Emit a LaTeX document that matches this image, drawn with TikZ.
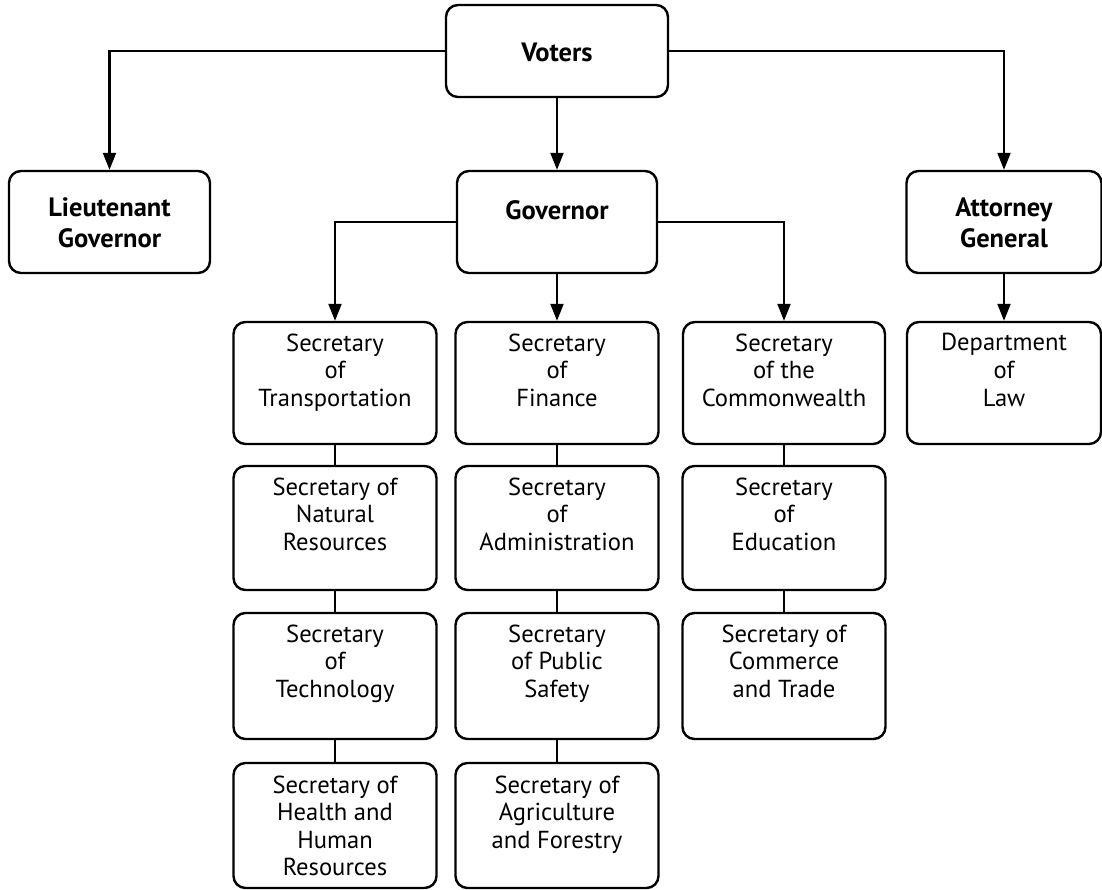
\documentclass[tikz,border=0pt]{standalone}
\usepackage{fontspec}
\setmainfont{PT Sans}
\usetikzlibrary{arrows.meta,positioning}
\begin{document}
\begin{tikzpicture}[x=1pt,y=-1pt,
  box/.style={draw, rounded corners=12pt, line width=2.4pt, inner sep=0pt, fill=white},
  txt/.style={inner sep=0pt, align=center, font=\fontsize{24.6}{27.6}\selectfont},
  btxt/.style={inner sep=0pt, align=center, font=\fontsize{26.5}{31}\selectfont\bfseries},
  conn/.style={line width=2.2pt},
  arr/.style={conn, -{Triangle[width=13pt,length=17pt]}}]
\useasboundingbox (0,0) rectangle (1102,890);
\fill[white] (0,0) rectangle (1102,890);
% top level
\node[box, minimum width=222, minimum height=92] (voters) at (557,51) {};
\node[btxt] (tvoters) at (557,52) {Voters};
\node[box, minimum width=201, minimum height=102] (lt) at (109.5,222) {};
\node[box, minimum width=200, minimum height=102] (gov) at (557,222) {};
\node[box, minimum width=195, minimum height=102] (ag) at (1004,222) {};
\node[btxt, anchor=north, below=28pt of lt.north] (tlt) {Lieutenant\\Governor};
\node[btxt, anchor=north, below=31pt of gov.north] (tgov) {Governor};
\node[btxt, anchor=north, below=28pt of ag.north] (tag) {Attorney\\General};
% column boxes
\foreach \n/\x/\w in {1/335/203, 2/557/203, 3/784/202, 4/1004/194}{
  \node[box, minimum width=\w, minimum height=122] (b\n1) at (\x,383) {};
}
\foreach \n/\x in {1/335, 2/557, 3/784}{
  \node[box, minimum width=203, minimum height=124] (b\n2) at (\x,528) {};
  \node[box, minimum width=203, minimum height=126] (b\n3) at (\x,676) {};
}
\foreach \n/\x in {1/335, 2/557}{
  \node[box, minimum width=203, minimum height=125] (b\n4) at (\x,825.5) {};
}
% texts
\node[txt, below=12.5pt of b11.north] (t11) {Secretary\\of\\Transportation};
\node[txt, below=12.5pt of b12.north] (t12) {Secretary of\\Natural\\Resources};
\node[txt, below=12.5pt of b13.north] (t13) {Secretary\\of\\Technology};
\node[txt, below=13.5pt of b14.north] (t14) {Secretary of\\Health and\\Human\\Resources};
\node[txt, below=12.5pt of b21.north] (t21) {Secretary\\of\\Finance};
\node[txt, below=12.5pt of b22.north] (t22) {Secretary\\of\\Administration};
\node[txt, below=12.5pt of b23.north] (t23) {Secretary\\of Public\\Safety};
\node[txt, below=13.5pt of b24.north] (t24) {Secretary of\\Agriculture\\and Forestry};
\node[txt, below=12.5pt of b31.north] (t31) {Secretary\\of the\\Commonwealth};
\node[txt, below=12.5pt of b32.north] (t32) {Secretary\\of\\Education};
\node[txt, below=12.5pt of b33.north] (t33) {Secretary of\\Commerce\\and Trade};
\node[txt, below=12.5pt of b41.north] (t41) {Department\\of\\Law};
% connectors
\draw[arr] (voters.west) -| (lt.north);
\draw[arr] (voters.south) -- (gov.north);
\draw[arr] (voters.east) -| (ag.north);
\draw[arr] (gov.west) -| (b11.north);
\draw[arr] (gov.south) -- (b21.north);
\draw[arr] (gov.east) -| (b31.north);
\draw[arr] (ag.south) -- (b41.north);
\draw[conn] (b11.south) -- (b12.north);
\draw[conn] (b12.south) -- (b13.north);
\draw[conn] (b13.south) -- (b14.north);
\draw[conn] (b21.south) -- (b22.north);
\draw[conn] (b22.south) -- (b23.north);
\draw[conn] (b23.south) -- (b24.north);
\draw[conn] (b31.south) -- (b32.north);
\draw[conn] (b32.south) -- (b33.north);
\end{tikzpicture}
\end{document}
